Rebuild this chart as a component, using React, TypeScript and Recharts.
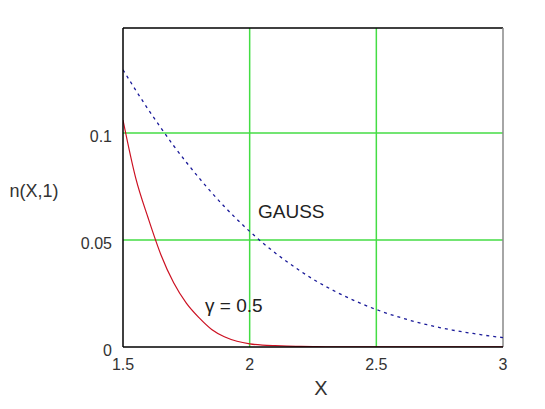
import React from 'react';
import { LineChart, Line, XAxis, YAxis, ReferenceLine, ReferenceDot, Label } from 'recharts';

const xValues = [1.5, 1.55, 1.6, 1.65, 1.7, 1.75, 1.8, 1.85, 1.9, 1.95, 2.0, 2.05, 2.1, 2.15, 2.2, 2.25, 2.3, 2.35, 2.4, 2.45, 2.5, 2.55, 2.6, 2.65, 2.7, 2.75, 2.8, 2.85, 2.9, 2.95, 3.0];
const gaussValues = [0.1295, 0.12, 0.1109, 0.1023, 0.094, 0.0863, 0.079, 0.0721, 0.0656, 0.0596, 0.054, 0.0488, 0.044, 0.0396, 0.0355, 0.0317, 0.0283, 0.0252, 0.0224, 0.0198, 0.0175, 0.0154, 0.0136, 0.0119, 0.0104, 0.0091, 0.0079, 0.0069, 0.006, 0.0051, 0.0044];
const gammaValues = [0.106, 0.079, 0.06, 0.043, 0.03, 0.0205, 0.0137, 0.0082, 0.0048, 0.0027, 0.0015, 0.0009, 0.0006, 0.0004, 0.0003, 0.0002, 0.0001, 0.0001, 0.0001, 0.0001, 0.0001, 0.0001, 0.0001, 0.0001, 0.0001, 0.0001, 0.0001, 0.0001, 0.0001, 0.0001, 0.0001];
const xTicks = [1.5, 2, 2.5, 3];
const yTicks = [0, 0.05, 0.1];
const gridX = [2, 2.5];
const gridY = [0.05, 0.1];
const xDomain = [1.5, 3];
const yDomain = [0, 0.149];
const gaussLabel = { x: 2.033, y: 0.0603, text: 'GAUSS' };
const gammaLabel = { x: 1.824, y: 0.0163, text: 'γ = 0.5' };

const data = xValues.map((x, i) => ({ x, gauss: gaussValues[i], gamma: gammaValues[i] }));

const FONT = '"Liberation Sans", Arial, sans-serif';
const GREEN = '#44dd44';

const XTick = (p: any) => (
  <text x={p.x} y={p.y + 12} textAnchor="middle" fontSize={16} fill="#333" fontFamily={FONT}>
    {String(p.payload.value)}
  </text>
);

const YTick = (p: any) => (
  <text x={p.x} y={p.y + 9} textAnchor="end" fontSize={16} fill="#333" fontFamily={FONT}>
    {String(p.payload.value)}
  </text>
);

export default function App() {
  return (
    <div style={{ position: 'absolute', left: 0, top: 0, width: 545, height: 409, background: '#fff' }}>
      <LineChart width={545} height={409} data={data} margin={{ top: 28, right: 42, bottom: 22, left: 63 }}>
        {gridX.map((g) => (
          <ReferenceLine key={'gx' + g} x={g} stroke={GREEN} strokeWidth={1.5} />
        ))}
        {gridY.map((g) => (
          <ReferenceLine key={'gy' + g} y={g} stroke={GREEN} strokeWidth={1.5} />
        ))}
        <ReferenceLine y={yDomain[1]} stroke="#000" strokeWidth={1.5} />
        <ReferenceLine x={xDomain[1]} stroke="#888" strokeWidth={1.5} />
        <XAxis
          dataKey="x"
          type="number"
          domain={xDomain}
          ticks={xTicks}
          allowDataOverflow
          height={40}
          tickSize={0}
          tickMargin={11}
          tickLine={false}
          axisLine={{ stroke: '#000', strokeWidth: 1.5 }}
          tick={XTick}
        >
          <Label
            content={() => (
              <text x={321} y={395} textAnchor="middle" fontSize={20} fill="#333" fontFamily={FONT}>
                X
              </text>
            )}
          />
        </XAxis>
        <YAxis
          type="number"
          domain={yDomain}
          ticks={yTicks}
          allowDataOverflow
          width={60}
          tickSize={0}
          tickMargin={11}
          tickLine={false}
          axisLine={{ stroke: '#000', strokeWidth: 1.5 }}
          tick={YTick}
        >
          <Label
            content={() => (
              <text x={34} y={197} textAnchor="middle" fontSize={18} fill="#333" fontFamily={FONT}>
                n(X,1)
              </text>
            )}
          />
        </YAxis>
        <Line
          type="monotone"
          dataKey="gauss"
          stroke="#1a1a99"
          strokeWidth={1.3}
          strokeDasharray="3 4"
          dot={false}
          isAnimationActive={false}
        />
        <Line
          type="monotone"
          dataKey="gamma"
          stroke="#cc1122"
          strokeWidth={1.2}
          dot={false}
          isAnimationActive={false}
        />
        <ReferenceDot
          x={gaussLabel.x}
          y={gaussLabel.y}
          r={0}
          stroke="none"
          fill="none"
          label={(p: any) => (
            <text x={p.viewBox ? p.viewBox.x : 0} y={p.viewBox ? p.viewBox.y : 0} fontSize={19} fill="#222" fontFamily={FONT}>
              {gaussLabel.text}
            </text>
          )}
        />
        <ReferenceDot
          x={gammaLabel.x}
          y={gammaLabel.y}
          r={0}
          stroke="none"
          fill="none"
          label={(p: any) => (
            <text x={p.viewBox ? p.viewBox.x : 0} y={p.viewBox ? p.viewBox.y : 0} fontSize={19} fill="#222" fontFamily={FONT}>
              {gammaLabel.text}
            </text>
          )}
        />
      </LineChart>
    </div>
  );
}
